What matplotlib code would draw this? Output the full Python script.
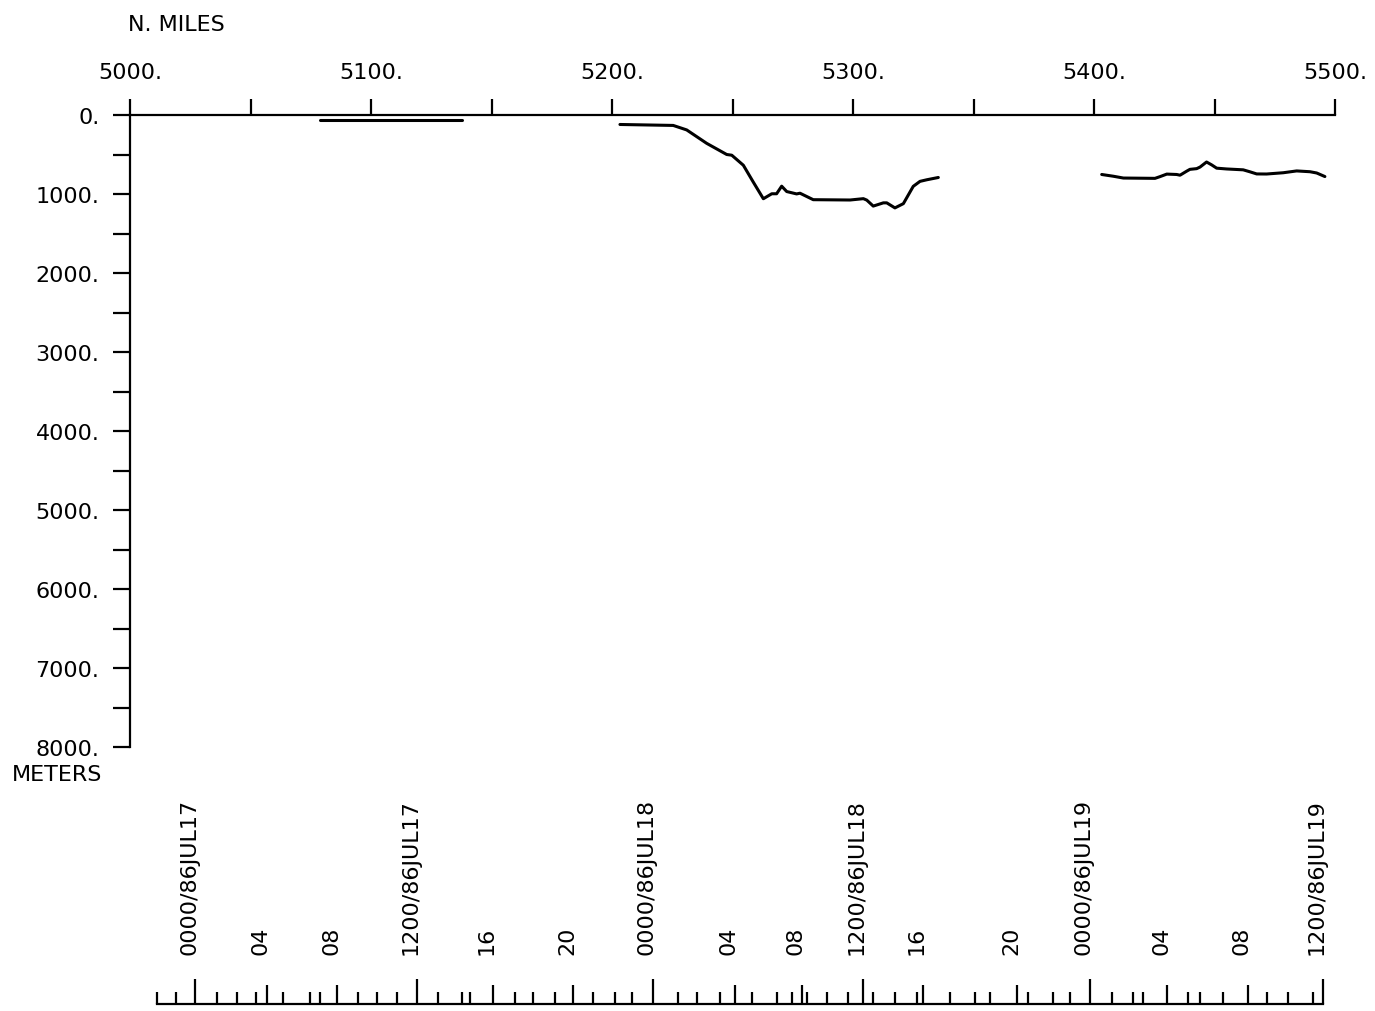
import matplotlib
matplotlib.use("Agg")
import matplotlib.pyplot as plt
from matplotlib.ticker import MultipleLocator, FuncFormatter, FixedLocator
from matplotlib import transforms

# 水深プロファイル（距離 N.MILES / 深さ METERS）
SEG1_MILES = [5078.8, 5137.8]
SEG1_DEPTH = [60, 60]

SEG2_MILES = [5203.3, 5225.4, 5231.0, 5239.3, 5247.6, 5249.7, 5254.5, 5258.6,
              5262.8, 5266.3, 5268.3, 5270.4, 5272.5, 5276.6, 5278.0, 5283.5,
              5298.8, 5304.3, 5305.7, 5308.4, 5312.6, 5314.0, 5317.4, 5320.9,
              5325.0, 5327.8, 5330.6, 5335.4]
SEG2_DEPTH = [120, 132, 189, 359, 500, 509, 636, 848,
              1060, 997, 997, 901, 969, 999, 990, 1072,
              1076, 1059, 1077, 1153, 1112, 1112, 1176, 1122,
              903, 840, 820, 791]

SEG3_MILES = [5403.2, 5408.0, 5412.2, 5425.3, 5427.4, 5430.2, 5434.3, 5435.7,
              5438.4, 5439.8, 5442.6, 5444.0, 5446.7, 5448.8, 5450.9, 5455.0,
              5461.9, 5464.7, 5467.5, 5471.6, 5478.5, 5484.1, 5489.6, 5492.4,
              5495.8]
SEG3_DEPTH = [753, 775, 798, 802, 780, 748, 753, 762,
              712, 688, 679, 659, 595, 631, 673, 683,
              694, 719, 746, 747, 731, 708, 718, 734,
              779]

# 時刻（86JUL17 0000 からの時間）ごとの航走距離
HOURS = list(range(-2, 61))
HOUR_MILES = [5011.2, 5019.1, 5027.0, 5036.1, 5044.4, 5052.3, 5056.8, 5063.5,
              5074.7, 5078.8, 5085.9, 5094.6, 5102.5, 5110.8, 5119.1, 5127.8,
              5137.8, 5141.1, 5150.6, 5159.8, 5167.2, 5176.3, 5183.8, 5192.1,
              5201.2, 5208.3, 5217.0, 5227.4, 5235.3, 5244.8, 5251.0, 5258.1,
              5268.5, 5274.7, 5278.8, 5280.9, 5289.2, 5297.9, 5304.1, 5308.3,
              5317.4, 5326.6, 5329.0, 5340.2, 5350.6, 5356.8, 5368.0, 5372.6,
              5383.0, 5390.0, 5398.3, 5407.5, 5416.2, 5420.3, 5430.3, 5439.0,
              5444.0, 5453.5, 5463.9, 5471.8, 5480.5, 5490.9, 5495.0]

LABEL_HOURS = [0, 4, 8, 12, 16, 20, 24, 28, 32, 36, 40, 44, 48, 52, 56, 60]
TIME_LABELS = ["0000/86JUL17", "04", "08", "1200/86JUL17", "16", "20",
               "0000/86JUL18", "04", "08", "1200/86JUL18", "16", "20",
               "0000/86JUL19", "04", "08", "1200/86JUL19"]

FS = 16
LW = 1.6


def miles_at(hour):
    return HOUR_MILES[HOURS.index(hour)]


def main():
    plt.rcParams['font.family'] = ['DejaVu Sans']
    fig = plt.figure(figsize=(13.75, 10.12), dpi=100)

    # 本体（深さ軸は下向き）
    ax = fig.add_axes([130 / 1375, 1 - 748 / 1012, 1205 / 1375, 632 / 1012])
    for m, d in [(SEG1_MILES, SEG1_DEPTH), (SEG2_MILES, SEG2_DEPTH),
                 (SEG3_MILES, SEG3_DEPTH)]:
        ax.plot(m, d, color='black', lw=2.2, solid_joinstyle='round',
                solid_capstyle='round')

    ax.set_xlim(5000, 5500)
    ax.set_ylim(8000, 0)
    ax.spines['right'].set_visible(False)
    ax.spines['bottom'].set_visible(False)
    ax.spines['top'].set_linewidth(LW)
    ax.spines['left'].set_linewidth(LW)

    ax.xaxis.tick_top()
    ax.xaxis.set_major_locator(MultipleLocator(100))
    ax.xaxis.set_minor_locator(MultipleLocator(50))
    ax.xaxis.set_major_formatter(FuncFormatter(lambda v, p: f"{v:.0f}."))
    ax.tick_params(axis='x', which='both', direction='out', length=11.5,
                   width=LW, pad=12, labelsize=FS)

    ax.yaxis.set_major_locator(MultipleLocator(1000))
    ax.yaxis.set_minor_locator(MultipleLocator(500))
    ax.yaxis.set_major_formatter(FuncFormatter(lambda v, p: f"{v:.0f}."))
    ax.tick_params(axis='y', which='both', direction='out', length=12,
                   width=LW, pad=10, labelsize=FS)

    fig.text(128 / 1375, 1 - 25 / 1012, "N. MILES", fontsize=FS,
             ha='left', va='center')
    fig.text(12 / 1375, 1 - 775 / 1012, "METERS", fontsize=FS,
             ha='left', va='center')

    # 時刻軸（距離に対応させた目盛）
    tax = fig.add_axes([130 / 1375, 1 - 1005 / 1012, 1205 / 1375, 0.01])
    tax.set_xlim(5000, 5500)
    tax.set_ylim(0, 1)
    for side in ['top', 'left', 'right']:
        tax.spines[side].set_visible(False)
    tax.spines['bottom'].set_linewidth(LW)
    tax.spines['bottom'].set_bounds(HOUR_MILES[0], HOUR_MILES[-1])
    tax.set_yticks([])
    tax.xaxis.set_major_locator(FixedLocator([miles_at(h) for h in LABEL_HOURS]))
    tax.xaxis.set_minor_locator(FixedLocator(HOUR_MILES))
    tax.tick_params(axis='x', which='major', direction='in', length=14,
                    width=LW, labelbottom=False)
    tax.tick_params(axis='x', which='minor', direction='in', length=9,
                    width=LW)
    for h, tick in zip(LABEL_HOURS, tax.xaxis.get_major_ticks()):
        if h % 12 == 0:
            tick.tick1line.set_markersize(18)

    trans = transforms.blended_transform_factory(tax.transData, fig.transFigure)
    shift = transforms.ScaledTranslation(-6 / 100, 0, fig.dpi_scale_trans)
    for h, lab in zip(LABEL_HOURS, TIME_LABELS):
        fig.text(miles_at(h), 1 - 955 / 1012, lab, transform=trans + shift,
                 rotation=90, ha='center', va='bottom', fontsize=FS)

    fig.savefig("out.png", dpi=100)


if __name__ == '__main__':
    main()
